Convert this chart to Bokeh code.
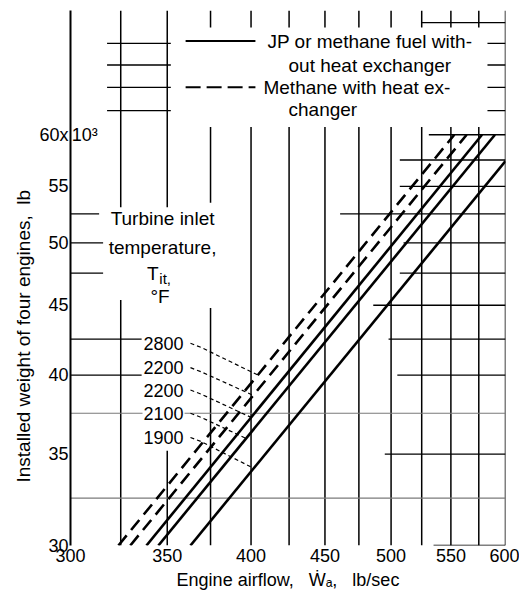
import math
from bokeh.plotting import figure
from bokeh.models import Range1d, FixedTicker, NumeralTickFormatter, Title
from bokeh.core.properties import value
from bokeh.embed import file_html
from bokeh.resources import INLINE

FONT = "Liberation Sans"

# ---------------- data ----------------
temperatures = ["2800", "2200", "2200", "2100", "1900"]
is_heat_exchanger = [True, True, False, False, False]
airflow_low = [323.8, 330.0, 338.6, 345.1, 363.2]
weight_low = [30.0, 30.0, 30.0, 30.0, 30.0]
airflow_high = [553.0, 564.0, 578.0, 590.0, 600.0]
weight_high = [60.0, 60.0, 60.0, 60.0, 57.4]
label_weight = [42.2, 40.5, 39.0, 37.5, 36.0]
leader_weight = [40.0, 38.65, 37.24, 35.94, 34.17]

x_ticks = [300, 350, 400, 450, 500, 550, 600]
y_ticks = [30, 35, 40, 45, 50, 55, 60]

legend_solid = ["JP  or  methane fuel with-", "out heat exchanger"]
legend_dashed = ["Methane with heat ex-", "changer"]
turbine_lines = ["Turbine inlet", "temperature,"]

# graph-paper rulings that survive on the original (partly erased)
v_rules = {
    325: [(30, 45.4), (53.1, 74)],
    350: [(30, 35.2), (53.1, 74)],
    375: [(30, 44.8), (53.5, 60.8), (71.9, 74)],
    400: [(30, 60.8), (71.9, 74)],
    425: [(30, 60.8), (71.9, 74)],
    450: [(30, 60.8), (71.9, 74)],
    475: [(30, 60.8), (71.9, 74)],
    500: [(30, 60.8), (71.9, 74)],
    525: [(30, 60.8), (71.9, 74)],
    550: [(30, 60.8), (71.9, 74)],
    575: [(30, 60.8), (71.9, 74)],
    600: [(30, 74)],
}
h_rules = {
    72.5: [(525, 600)],
    70: [(318, 352), (583, 600)],
    67.5: [(318, 352), (583, 600)],
    65: [(318, 352), (583, 600)],
    62.5: [(318, 352), (583, 600)],
    60: [(531, 600)],
    57.5: [(507, 600)],
    55: [(507, 600)],
    52.5: [(300, 314), (461, 600)],
    50: [(300, 316), (510, 600)],
    47.5: [(300, 316), (507, 600)],
    45: [(486, 600)],
    42.5: [(300, 336), (498, 600)],
    40: [(300, 336), (505, 600)],
    35: [(495, 600)],
    30: [(535, 600)],
}
h_rules_light = {37.5: [(300, 600)], 32.5: [(300, 600)]}

# ---------------- figure ----------------
p = figure(width=519, height=594, x_axis_type="log", y_axis_type="log",
           x_range=Range1d(300, 600), y_range=Range1d(30, 74),
           output_backend="svg", toolbar_location=None,
           min_border_left=70, min_border_right=14, min_border_top=10, min_border_bottom=49)
p.outline_line_color = None
p.xgrid.visible = False
p.ygrid.visible = False
p.background_fill_color = "white"
p.border_fill_color = "white"

for ax, ticks in ((p.xaxis[0], x_ticks), (p.yaxis[0], y_ticks)):
    ax.ticker = FixedTicker(ticks=ticks, minor_ticks=[])
    ax.formatter = NumeralTickFormatter(format="0")
    ax.major_tick_line_color = None
    ax.minor_tick_line_color = None
    ax.major_tick_out = 0
    ax.major_tick_in = 0
    ax.minor_tick_out = 0
    ax.major_label_text_font = FONT
    ax.major_label_text_font_size = "18px"
    ax.major_label_text_color = "black"
p.yaxis.major_label_overrides = {60: "60x"}
p.xaxis.axis_line_color = None
p.xaxis.major_label_standoff = 3
p.yaxis.axis_line_color = "black"
p.yaxis.axis_line_width = 2
p.yaxis.major_label_standoff = 2

p.xaxis.axis_label = "Engine airflow,\u00a0\u00a0 Ẇₐ,\u00a0\u00a0 lb/sec"
p.xaxis.axis_label_text_font = FONT
p.xaxis.axis_label_text_font_size = "18px"
p.xaxis.axis_label_text_font_style = "normal"
p.xaxis.axis_label_text_color = "black"
p.xaxis.axis_label_standoff = 5

p.add_layout(Title(text="Installed weight of four engines,\u00a0 lb", align="left", offset=63,
                   text_font=FONT, text_font_size="19px", text_font_style="normal",
                   text_color="black", standoff=6), "left")

# rulings
xs, ys = [], []
for a, spans in v_rules.items():
    for w0, w1 in spans:
        xs.append([a, a]); ys.append([w0, w1])
p.multi_line(xs, ys, line_color="black", line_width=1.5)
xs, ys = [], []
for w, spans in h_rules.items():
    for a0, a1 in spans:
        xs.append([a0, a1]); ys.append([w, w])
p.multi_line(xs, ys, line_color="black", line_width=1.3)
xs, ys = [], []
for w, spans in h_rules_light.items():
    for a0, a1 in spans:
        xs.append([a0, a1]); ys.append([w, w])
p.multi_line(xs, ys, line_color="#7a7a7a", line_width=1.2)

# the curves
for i in range(len(temperatures)):
    dash = "13 7" if is_heat_exchanger[i] else "solid"
    p.line([airflow_low[i], airflow_high[i]], [weight_low[i], weight_high[i]],
           line_color="black", line_width=2.6, line_dash=dash)

# leaders from temperature labels to the curves
for i in range(len(temperatures)):
    k = math.log(airflow_high[i] / airflow_low[i]) / math.log(weight_high[i] / weight_low[i])
    a_end = airflow_low[i] * (leader_weight[i] / weight_low[i]) ** k
    p.line([363.2, 369.5, a_end], [label_weight[i], label_weight[i] * 0.993, leader_weight[i]],
           line_color="black", line_width=1.2, line_dash="4 3")

p.text(x=[359.8] * len(temperatures), y=label_weight, text=temperatures,
       text_font=value(FONT), text_font_size="18px", text_align="right",
       text_baseline="middle", background_fill_color="white", padding=1)

# second half of the "60x10³" label
p.text(x=[300.6], y=[60], text=["10³"], text_font=value(FONT), text_font_size="18px",
       text_align="left", text_baseline="middle", background_fill_color="white")

# turbine inlet temperature caption
p.text(x=[347.4, 347.4], y=[52.1, 49.6], text=turbine_lines, text_font=value(FONT),
       text_font_size="19px", text_align="center", text_baseline="middle")
p.text(x=[345.2], y=[47.5], text=["T"], text_font=value(FONT), text_font_size="19px",
       text_align="right", text_baseline="middle")
p.text(x=[345.6], y=[47.5], text=["it,"], text_font=value(FONT), text_font_size="15px",
       text_align="left", text_baseline="middle", y_offset=5)
p.text(x=[346.0], y=[45.7], text=["°F"], text_font=value(FONT), text_font_size="19px",
       text_align="center", text_baseline="middle")

# legend
p.line([360.4, 402.8], [70.3, 70.3], line_color="black", line_width=2)
p.line([360.4, 402.8], [65.0, 65.0], line_color="black", line_width=2, line_dash="15 6")
p.text(x=[410.6, 424.6], y=[70.2, 67.4], text=legend_solid, text_font=value(FONT),
       text_font_size="19px", text_align="left", text_baseline="middle")
p.text(x=[408.0, 424.6], y=[65.0, 62.6], text=legend_dashed, text_font=value(FONT),
       text_font_size="19px", text_align="left", text_baseline="middle")

open("out.html", "w").write(file_html(p, INLINE))
